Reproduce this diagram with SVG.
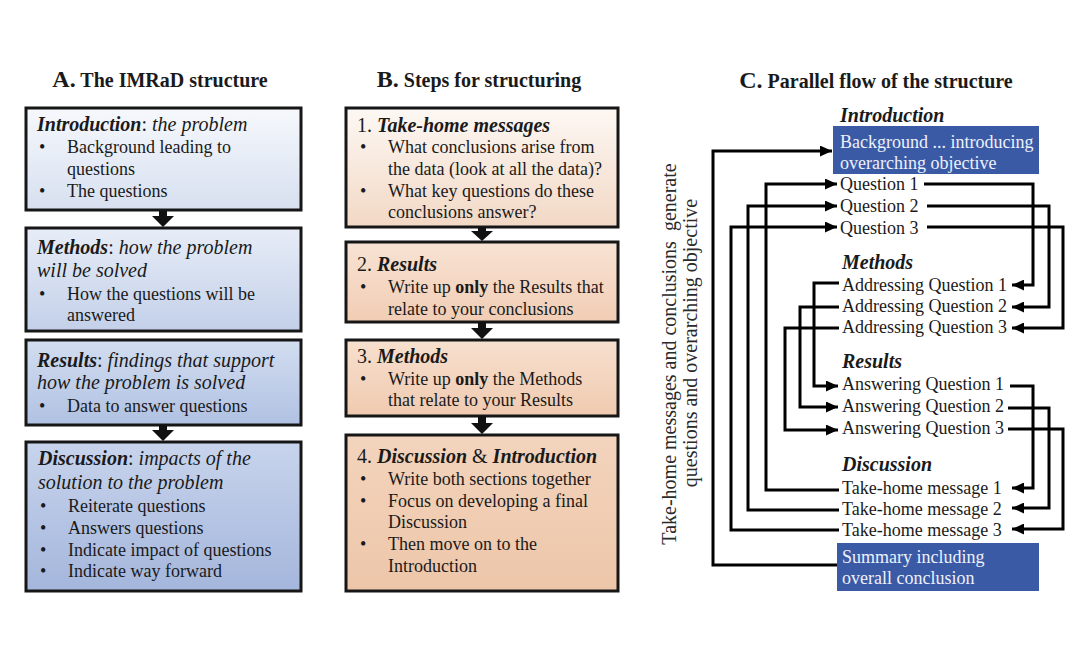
<svg xmlns="http://www.w3.org/2000/svg" width="1088" height="656" viewBox="0 0 1088 656">
<style>
text{font-family:"Liberation Serif","Times New Roman",serif;fill:#1a1a1a;}
.t{font-size:20px;font-weight:bold;}
.tb{font-size:24px;}
.hd{font-size:20px;}
.bd{font-size:18px;}
.bi{font-weight:bold;font-style:italic;}
.it{font-style:italic;}
.b{font-weight:bold;}
.box{stroke:#161616;stroke-width:3;}
.blue{fill:#3a5aa6;}
.wt{fill:#eef1fa;font-size:18px;}
.con{fill:none;stroke:#000;stroke-width:3;}
.ar{fill:#111;}
.rot{font-size:20px;fill:#2a2a2a;}
</style>
<defs>
<linearGradient id="ga1" x1="0" y1="0" x2="0" y2="1"><stop offset="0" stop-color="#f6f8fc"/><stop offset="1" stop-color="#d7e0f0"/></linearGradient>
<linearGradient id="ga2" x1="0" y1="0" x2="0" y2="1"><stop offset="0" stop-color="#e7edf7"/><stop offset="1" stop-color="#c3d0e9"/></linearGradient>
<linearGradient id="ga3" x1="0" y1="0" x2="0" y2="1"><stop offset="0" stop-color="#d2ddf0"/><stop offset="1" stop-color="#b0c1e2"/></linearGradient>
<linearGradient id="ga4" x1="0" y1="0" x2="0" y2="1"><stop offset="0" stop-color="#c8d4ec"/><stop offset="1" stop-color="#a4b6dc"/></linearGradient>
<linearGradient id="gb1" x1="0" y1="0" x2="0" y2="1"><stop offset="0" stop-color="#fdf8f4"/><stop offset="1" stop-color="#f2d8c5"/></linearGradient>
<linearGradient id="gb2" x1="0" y1="0" x2="0" y2="1"><stop offset="0" stop-color="#f8e3d4"/><stop offset="1" stop-color="#f1cdb4"/></linearGradient>
<linearGradient id="gb3" x1="0" y1="0" x2="0" y2="1"><stop offset="0" stop-color="#f7e0ce"/><stop offset="1" stop-color="#f0cab0"/></linearGradient>
<linearGradient id="gb4" x1="0" y1="0" x2="0" y2="1"><stop offset="0" stop-color="#f3d4bd"/><stop offset="1" stop-color="#edc6a9"/></linearGradient>
<marker id="ah" markerUnits="userSpaceOnUse" markerWidth="13" markerHeight="11" refX="12" refY="5.5" orient="auto"><path d="M0,0 L12,5.5 L0,11 z" fill="#000"/></marker>
</defs>
<rect width="1088" height="656" fill="#ffffff"/>

<!-- Panel A -->
<g id="titleA"><text x="160" y="87" text-anchor="middle" class="t"><tspan class="tb">A.</tspan> The IMRaD structure</text></g>
<g id="a-intro">
<rect class="box" x="26" y="108" width="275" height="102" fill="url(#ga1)"/>
<text x="37" y="131" class="hd"><tspan class="bi">Introduction</tspan>: <tspan class="it">the problem</tspan></text>
<text x="39" y="153" class="bd">•</text><text x="67" y="153" class="bd">Background leading to</text>
<text x="67" y="175" class="bd">questions</text>
<text x="39" y="197" class="bd">•</text><text x="67" y="197" class="bd">The questions</text>
</g>
<g id="a-arrow1"><polygon class="ar" points="159,211 167,211 167,216 174,216 163,227 152,216 159,216"/></g>
<g id="a-methods">
<rect class="box" x="26" y="228" width="275" height="103" fill="url(#ga2)"/>
<text x="37" y="254" class="hd"><tspan class="bi">Methods</tspan>: <tspan class="it">how the problem</tspan></text>
<text x="37" y="277" class="hd it">will be solved</text>
<text x="39" y="300" class="bd">•</text><text x="67" y="300" class="bd">How the questions will be</text>
<text x="67" y="321" class="bd">answered</text>
</g>
<g id="a-results">
<rect class="box" x="26" y="340" width="275" height="85" fill="url(#ga3)"/>
<text x="37" y="367" class="hd"><tspan class="bi">Results</tspan>: <tspan class="it">findings that support</tspan></text>
<text x="37" y="389" class="hd it">how the problem is solved</text>
<text x="39" y="412" class="bd">•</text><text x="67" y="412" class="bd">Data to answer questions</text>
</g>
<g id="a-arrow2"><polygon class="ar" points="159,425 167,425 167,430 174,430 163,441 152,430 159,430"/></g>
<g id="a-discussion">
<rect class="box" x="26" y="442" width="275" height="149" fill="url(#ga4)"/>
<text x="38" y="465" class="hd"><tspan class="bi">Discussion</tspan>: <tspan class="it">impacts of the</tspan></text>
<text x="38" y="489" class="hd it">solution to the problem</text>
<text x="40" y="512" class="bd">•</text><text x="68" y="512" class="bd">Reiterate questions</text>
<text x="40" y="534" class="bd">•</text><text x="68" y="534" class="bd">Answers questions</text>
<text x="40" y="556" class="bd">•</text><text x="68" y="556" class="bd">Indicate impact of questions</text>
<text x="40" y="577" class="bd">•</text><text x="68" y="577" class="bd">Indicate way forward</text>
</g>

<!-- Panel B -->
<g id="titleB"><text x="479" y="87" text-anchor="middle" class="t"><tspan class="tb">B.</tspan> Steps for structuring</text></g>
<g id="b-step1">
<rect class="box" x="346" y="108" width="272" height="119" fill="url(#gb1)"/>
<text x="357" y="132" class="hd">1. <tspan class="bi">Take-home messages</tspan></text>
<text x="360" y="153" class="bd">•</text><text x="388" y="153" class="bd">What conclusions arise from</text>
<text x="388" y="175" class="bd">the data (look at all the data)?</text>
<text x="360" y="197" class="bd">•</text><text x="388" y="197" class="bd">What key questions do these</text>
<text x="388" y="218" class="bd">conclusions answer?</text>
</g>
<g id="b-arrow1"><polygon class="ar" points="478,227 486,227 486,231 493,231 482,241 471,231 478,231"/></g>
<g id="b-step2">
<rect class="box" x="346" y="242" width="272" height="80" fill="url(#gb2)"/>
<text x="357" y="271" class="hd">2. <tspan class="bi">Results</tspan></text>
<text x="360" y="293" class="bd">•</text><text x="388" y="293" class="bd">Write up <tspan class="b">only</tspan> the Results that</text>
<text x="388" y="315" class="bd">relate to your conclusions</text>
</g>
<g id="b-arrow2"><polygon class="ar" points="478,322 486,322 486,328 493,328 482,339 471,328 478,328"/></g>
<g id="b-step3">
<rect class="box" x="346" y="340" width="272" height="76" fill="url(#gb3)"/>
<text x="357" y="363" class="hd">3. <tspan class="bi">Methods</tspan></text>
<text x="360" y="385" class="bd">•</text><text x="388" y="385" class="bd">Write up <tspan class="b">only</tspan> the Methods</text>
<text x="388" y="406" class="bd">that relate to your Results</text>
</g>
<g id="b-arrow3"><polygon class="ar" points="478,416 486,416 486,423 493,423 482,434 471,423 478,423"/></g>
<g id="b-step4">
<rect class="box" x="346" y="435" width="272" height="156" fill="url(#gb4)"/>
<text x="357" y="463" class="hd">4. <tspan class="bi">Discussion</tspan> &amp; <tspan class="bi">Introduction</tspan></text>
<text x="360" y="485" class="bd">•</text><text x="388" y="485" class="bd">Write both sections together</text>
<text x="360" y="507" class="bd">•</text><text x="388" y="507" class="bd">Focus on developing a final</text>
<text x="388" y="528" class="bd">Discussion</text>
<text x="360" y="550" class="bd">•</text><text x="388" y="550" class="bd">Then move on to the</text>
<text x="388" y="572" class="bd">Introduction</text>
</g>

<!-- Panel C -->
<g id="titleC"><text x="876" y="88" text-anchor="middle" class="t"><tspan class="tb">C.</tspan> Parallel flow of the structure</text></g>
<g id="c-side">
<text class="rot" text-anchor="middle" transform="translate(676,354) rotate(-90)">Take-home messages and conclusions&#160; generate</text>
<text class="rot" text-anchor="middle" transform="translate(697,343) rotate(-90)">questions and overarching objective</text>
</g>
<g id="c-intro">
<text x="840" y="122" class="hd bi">Introduction</text>
<rect class="blue" x="833" y="126" width="206" height="48"/>
<text x="840" y="148" class="wt">Background ... introducing</text>
<text x="840" y="169" class="wt">overarching objective</text>
</g>
<g id="c-q1"><text x="840" y="190" class="bd">Question 1</text></g>
<g id="c-q2"><text x="840" y="212" class="bd">Question 2</text></g>
<g id="c-q3"><text x="840" y="234" class="bd">Question 3</text></g>
<g id="c-methods"><text x="842" y="269" class="hd bi">Methods</text></g>
<g id="c-m1"><text x="842" y="291" class="bd">Addressing Question 1</text></g>
<g id="c-m2"><text x="842" y="312" class="bd">Addressing Question 2</text></g>
<g id="c-m3"><text x="842" y="333" class="bd">Addressing Question 3</text></g>
<g id="c-results"><text x="842" y="368" class="hd bi">Results</text></g>
<g id="c-r1"><text x="842" y="390" class="bd">Answering Question 1</text></g>
<g id="c-r2"><text x="842" y="412" class="bd">Answering Question 2</text></g>
<g id="c-r3"><text x="842" y="434" class="bd">Answering Question 3</text></g>
<g id="c-discussion"><text x="842" y="471" class="hd bi">Discussion</text></g>
<g id="c-d1"><text x="842" y="494" class="bd">Take-home message 1</text></g>
<g id="c-d2"><text x="842" y="515" class="bd">Take-home message 2</text></g>
<g id="c-d3"><text x="842" y="536" class="bd">Take-home message 3</text></g>
<g id="c-summary">
<rect class="blue" x="837" y="543" width="202" height="48"/>
<text x="842" y="563" class="wt">Summary including</text>
<text x="842" y="584" class="wt">overall conclusion</text>
</g>

<g id="connectors">
<path class="con" d="M837,565 H713 V151 H832" marker-end="url(#ah)"/>
<path class="con" d="M839,490 H766 V184 H837" marker-end="url(#ah)"/>
<path class="con" d="M839,510 H748 V206 H837" marker-end="url(#ah)"/>
<path class="con" d="M839,530 H731 V227 H837" marker-end="url(#ah)"/>
<path class="con" d="M924,184 H1033 V285 H1012" marker-end="url(#ah)"/>
<path class="con" d="M927,206 H1049 V307 H1012" marker-end="url(#ah)"/>
<path class="con" d="M927,227 H1063 V328 H1012" marker-end="url(#ah)"/>
<path class="con" d="M839,283 H814 V386 H838" marker-end="url(#ah)"/>
<path class="con" d="M839,307 H800 V407 H838" marker-end="url(#ah)"/>
<path class="con" d="M839,328 H785 V430 H838" marker-end="url(#ah)"/>
<path class="con" d="M1010,386 H1033 V488 H1012" marker-end="url(#ah)"/>
<path class="con" d="M1008,408 H1049 V508 H1012" marker-end="url(#ah)"/>
<path class="con" d="M1008,429 H1063 V529 H1012" marker-end="url(#ah)"/>
</g>
</svg>
